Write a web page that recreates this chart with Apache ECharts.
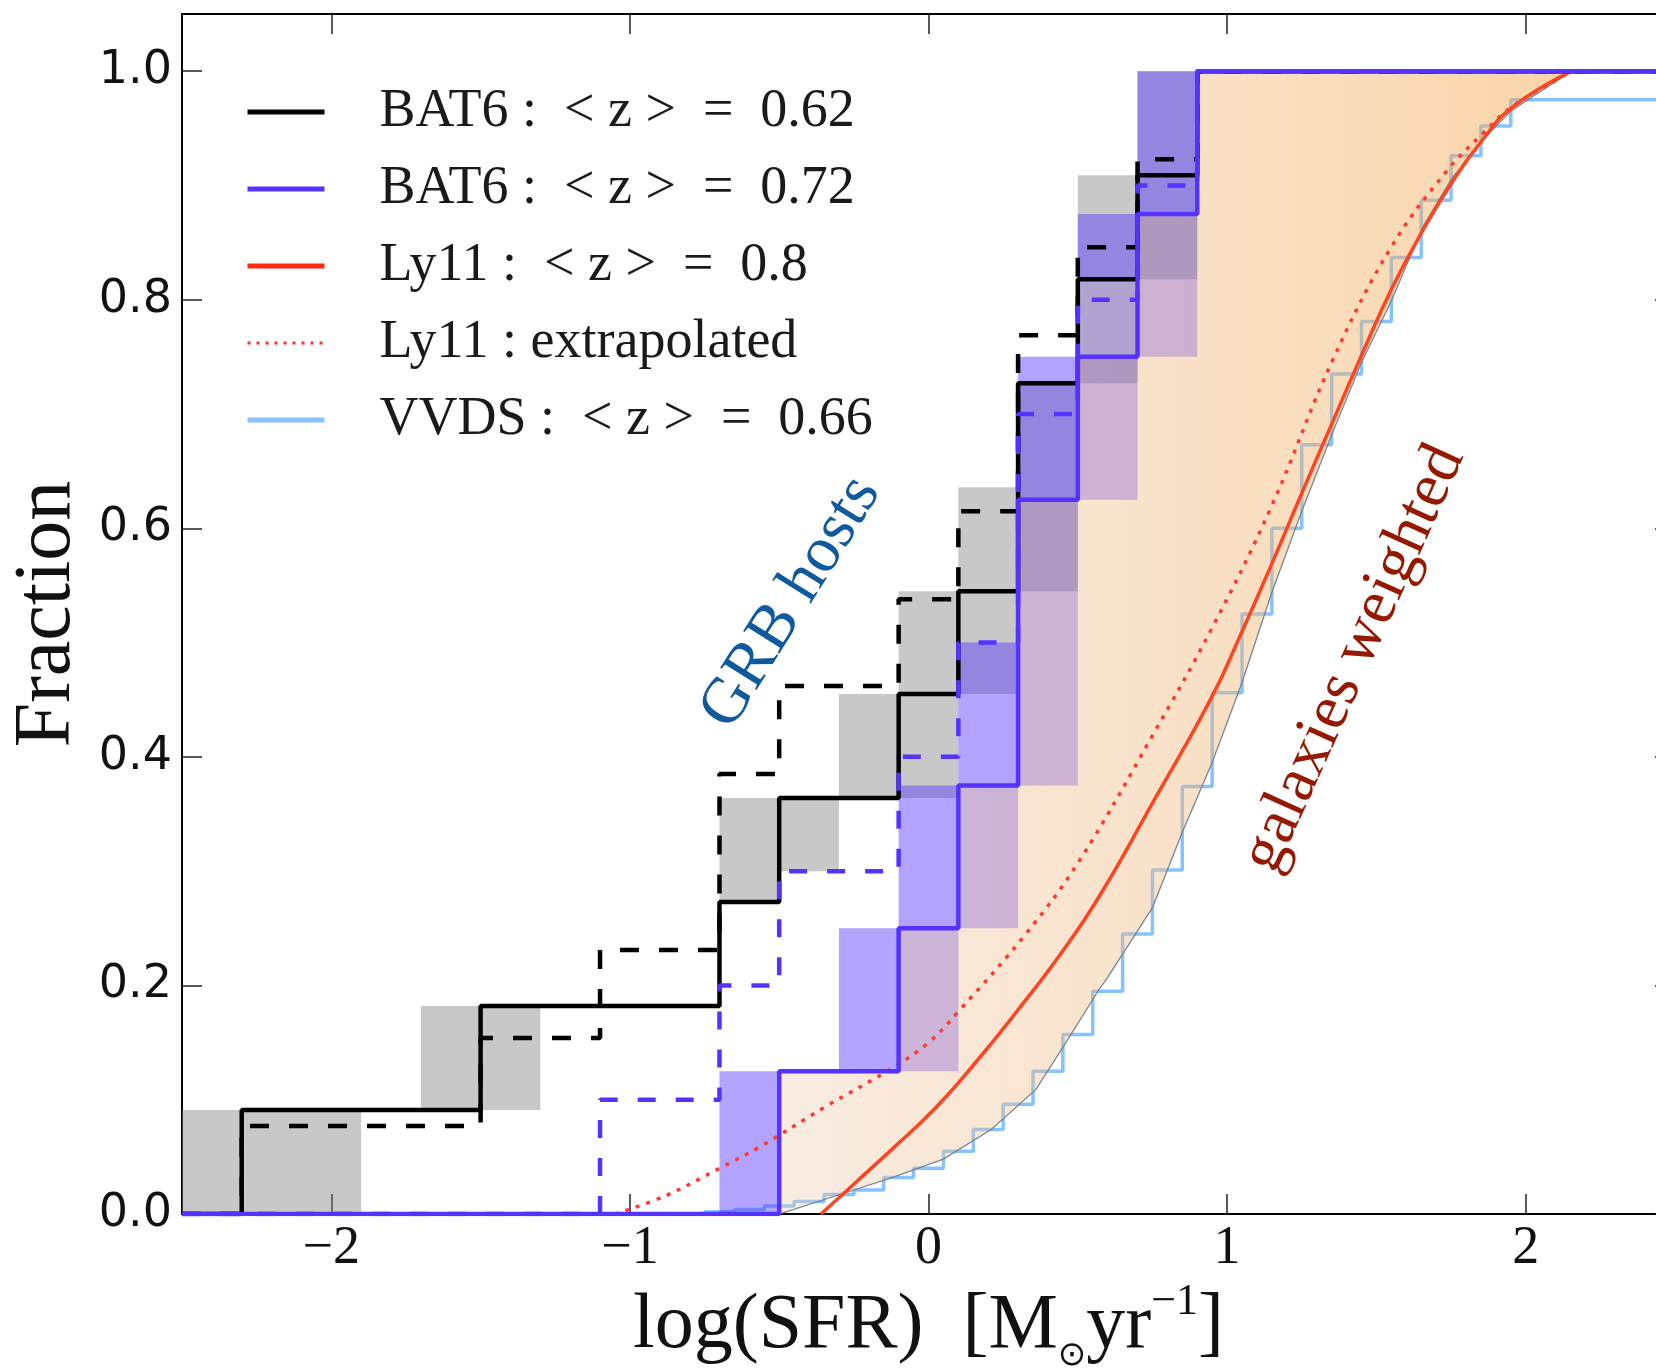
<!DOCTYPE html>
<html>
<head>
<meta charset="utf-8">
<script src="https://cdn.jsdelivr.net/npm/echarts@6/dist/echarts.min.js"></script>
<style>html,body{margin:0;padding:0;background:#fff}#c{width:1656px;height:1370px}</style>
</head>
<body>
<div id="c"></div>
<script>
// ---------------- data ----------------
const xTickValues = [-2, -1, 0, 1, 2];
const yTickValues = [0, 0.2, 0.4, 0.6, 0.8, 1.0];

const legendNames = [
  'BAT6 :  < z >  =  0.62',
  'BAT6 :  < z >  =  0.72',
  'Ly11 :  < z >  =  0.8',
  'Ly11 : extrapolated',
  'VVDS :  < z >  =  0.66'
];

// BAT6 <z>=0.62 (black solid): step positions and cumulative fraction
const bat6aX = [-2.5, -2.3, -1.5, -0.7, -0.5, -0.1, 0.1, 0.3, 0.5, 0.7, 0.9, 2.5];
const bat6aY = [0, 0.091, 0.182, 0.273, 0.364, 0.455, 0.545, 0.727, 0.818, 0.909, 1.0, 1.0];
// black dashed
const bat6bX = [-2.5, -2.3, -1.5, -1.1, -0.7, -0.5, -0.1, 0.1, 0.3, 0.5, 0.7, 0.9, 2.5];
const bat6bY = [0, 0.077, 0.154, 0.231, 0.385, 0.462, 0.538, 0.615, 0.769, 0.846, 0.923, 1.0, 1.0];
// BAT6 <z>=0.72 (blue solid)
const bat6cX = [-2.5, -0.5, -0.1, 0.1, 0.3, 0.5, 0.7, 0.9, 2.5];
const bat6cY = [0, 0.125, 0.25, 0.375, 0.625, 0.75, 0.875, 1.0, 1.0];
// blue dashed
const bat6dX = [-2.5, -1.1, -0.7, -0.5, -0.1, 0.1, 0.3, 0.5, 0.7, 0.9, 2.5];
const bat6dY = [0, 0.1, 0.2, 0.3, 0.4, 0.5, 0.7, 0.8, 0.9, 1.0, 1.0];

// uncertainty boxes (x from, x to, fraction low, fraction high)
const greyX0 = [-2.5, -1.7, -0.7, -0.5, -0.3, -0.1, 0.1, 0.3, 0.5, 0.7];
const greyX1 = [-1.9, -1.3, -0.5, -0.3, -0.1, 0.1, 0.3, 0.5, 0.7, 0.9];
const greyLo = [0, 0.091, 0.273, 0.30, 0.364, 0.364, 0.455, 0.545, 0.727, 0.818];
const greyHi = [0.091, 0.182, 0.364, 0.364, 0.455, 0.545, 0.636, 0.727, 0.909, 1.0];

const blueX0 = [-0.7, -0.3, -0.1, 0.1, 0.3, 0.5, 0.7];
const blueX1 = [-0.5, -0.1, 0.1, 0.3, 0.5, 0.7, 0.9];
const blueLo = [0, 0.125, 0.25, 0.375, 0.625, 0.818, 0.875];
const blueHi = [0.125, 0.25, 0.375, 0.5, 0.75, 0.875, 1.0];

const mauveX0 = [-0.1, 0.1, 0.3, 0.5, 0.7];
const mauveX1 = [0.1, 0.3, 0.5, 0.7, 0.9];
const mauveLo = [0.125, 0.25, 0.375, 0.625, 0.75];
const mauveHi = [0.25, 0.375, 0.625, 0.818, 0.875];

// VVDS <z>=0.66 (light blue step)
const vvdsX = [-2.5, -0.75, -0.65, -0.55, -0.45, -0.35, -0.25, -0.15, -0.05, 0.05, 0.15, 0.25, 0.35, 0.45, 0.55, 0.65, 0.75, 0.85, 0.95, 1.05, 1.15, 1.25, 1.35, 1.45, 1.55, 1.65, 1.75, 1.85, 1.95, 2.5];
const vvdsY = [0, 0.002, 0.004, 0.007, 0.011, 0.017, 0.021, 0.032, 0.040, 0.055, 0.074, 0.096, 0.125, 0.157, 0.195, 0.245, 0.301, 0.374, 0.456, 0.525, 0.600, 0.673, 0.735, 0.781, 0.837, 0.887, 0.926, 0.952, 0.975, 0.975];

// weighted-galaxies envelope (right edge of the shaded region)
const edgeX = [2.155, 2.03, 1.95, 1.853, 1.75, 1.656, 1.552, 1.45, 1.355, 1.25, 1.15, 1.05, 0.95, 0.85, 0.75, 0.6, 0.57, 0.46, 0.36, 0.21, 0.05, -0.12, -0.25, -0.5];
const edgeY = [1.0, 0.979, 0.965, 0.939, 0.905, 0.864, 0.80, 0.745, 0.685, 0.615, 0.544, 0.465, 0.395, 0.334, 0.268, 0.207, 0.196, 0.15, 0.109, 0.074, 0.048, 0.032, 0.021, 0.0];

// Ly11 <z>=0.8 (red solid)
const ly11X = [-0.36, -0.255, -0.121, 0.024, 0.159, 0.304, 0.438, 0.572, 0.751, 0.948, 1.047, 1.145, 1.244, 1.355, 1.453, 1.552, 1.650, 1.749, 1.847, 1.958, 2.155];
const ly11Y = [0.0, 0.025, 0.057, 0.093, 0.133, 0.180, 0.226, 0.278, 0.360, 0.452, 0.508, 0.566, 0.627, 0.694, 0.753, 0.810, 0.858, 0.901, 0.937, 0.969, 1.0];
// Ly11 extrapolated (red dotted)
const ly11eX = [-1.05, -0.88, -0.70, -0.57, -0.344, -0.12, 0.0, 0.103, 0.326, 0.505, 0.751, 0.948, 1.145, 1.355, 1.552, 1.737, 1.859, 1.96, 2.155];
const ly11eY = [0.0, 0.016, 0.040, 0.058, 0.094, 0.128, 0.150, 0.178, 0.245, 0.309, 0.419, 0.512, 0.617, 0.748, 0.847, 0.913, 0.946, 0.970, 1.0];

// text annotations
const annotText = ['GRB hosts', 'galaxies weighted'];
const annotX = [-0.46, 1.425];
const annotY = [0.535, 0.486];

// ---------------- chart ----------------
const annotStyle = [
  {rot: 58, color: '#0f5a9e', size: 65},
  {rot: 65.7, color: '#951800', size: 64}
];
const pts = (xs, ys) => xs.map((x, i) => [x, ys[i]]);
const boxes = (a, b, lo, hi) => a.map((v, i) => [v, b[i], lo[i], hi[i]]);

const peachPts = [];
for (let i = 1; i < bat6cX.length - 1; i++) {
  peachPts.push([bat6cX[i], bat6cY[i - 1]]);
  peachPts.push([bat6cX[i], bat6cY[i]]);
}
for (let i = 0; i < edgeX.length; i++) peachPts.push([edgeX[i], edgeY[i]]);

function boxSeries(data, color, z) {
  return {
    type: 'custom', z, silent: true, data,
    encode: {x: [0, 1], y: [2, 3]},
    renderItem(params, api) {
      const a = api.coord([api.value(0), api.value(3)]);
      const b = api.coord([api.value(1), api.value(2)]);
      return {type: 'rect', shape: {x: a[0], y: a[1], width: b[0] - a[0], height: b[1] - a[1]},
        style: {fill: color}};
    }
  };
}

function stepSeries(name, xs, ys, color, width, type, z) {
  return {
    name, type: 'line', step: 'end', z, symbol: 'none', silent: true,
    data: pts(xs, ys),
    lineStyle: {color, width, type, cap: 'butt'},
    itemStyle: {color}
  };
}

const chart = echarts.init(document.getElementById('c'), null, {renderer: 'canvas'});

const axisCommon = {
  type: 'value',
  axisLine: {show: true, onZero: false, lineStyle: {color: '#000', width: 2}},
  splitLine: {show: false}
};

chart.setOption({
  animation: false,
  backgroundColor: '#fff',
  grid: {left: 182, right: -19, top: 14, bottom: 156, containLabel: false, outerBoundsMode: 'none'},
  legend: {
    orient: 'vertical', left: 240, top: 77,
    itemWidth: 77, itemHeight: 4, itemGap: 17,
    selectedMode: false,
    itemStyle: {opacity: 0},
    data: [
      {name: legendNames[0], lineStyle: {width: 5, color: '#000000', type: 'solid'}},
      {name: legendNames[1], lineStyle: {width: 5, color: '#5533ff', type: 'solid'}},
      {name: legendNames[2], lineStyle: {width: 5, color: '#ff2a10', type: 'solid'}},
      {name: legendNames[3], lineStyle: {width: 3, color: '#ff3030', type: [3, 6]}},
      {name: legendNames[4], lineStyle: {width: 5, color: '#88c4ff', type: 'solid'}}
    ],
    textStyle: {fontFamily: 'Liberation Serif', fontSize: 54, color: '#1a1a1a', lineHeight: 60, padding: [0, 0, 0, 50]}
  },
  xAxis: [
    Object.assign({}, axisCommon, {
      min: -2.5, max: 2.5, position: 'bottom', splitNumber: 5,
      axisTick: {inside: true, length: 20, customValues: xTickValues, lineStyle: {color: '#222', width: 1.5}},
      axisLabel: {customValues: xTickValues, margin: 8, color: '#111',
        fontFamily: 'Liberation Serif', fontSize: 54,
        formatter: v => (v < 0 ? '\u2212' + Math.abs(v) : String(v))},
      name: '{a|log(SFR)}  {a|[M}{s|\u2299}{a|yr}{p|\u22121}{a|]}',
      nameLocation: 'middle', nameGap: 57,
      nameTextStyle: {
        fontFamily: 'Liberation Serif', fontSize: 78, color: '#111',
        rich: {
          a: {fontFamily: 'Liberation Serif', fontSize: 78, color: '#111', lineHeight: 92},
          s: {fontFamily: 'DejaVu Sans', fontSize: 34, color: '#111', verticalAlign: 'bottom', lineHeight: 40},
          p: {fontFamily: 'Liberation Serif', fontSize: 44, color: '#111', verticalAlign: 'top', lineHeight: 50}
        }
      }
    }),
    Object.assign({}, axisCommon, {
      min: -2.5, max: 2.5, position: 'top', splitNumber: 5,
      axisTick: {inside: true, length: 20, customValues: xTickValues, lineStyle: {color: '#222', width: 1.5}},
      axisLabel: {show: false}
    })
  ],
  yAxis: [
    Object.assign({}, axisCommon, {
      min: 0, max: 1.05, position: 'left',
      axisTick: {inside: true, length: 20, customValues: yTickValues, lineStyle: {color: '#222', width: 1.5}},
      axisLabel: {customValues: yTickValues, margin: 10, color: '#111',
        fontFamily: 'DejaVu Sans', fontSize: 46, formatter: v => v.toFixed(1)},
      name: 'Fraction', nameLocation: 'middle', nameGap: 91,
      nameTextStyle: {fontFamily: 'Liberation Serif', fontSize: 80, color: '#111'}
    }),
    Object.assign({}, axisCommon, {
      min: 0, max: 1.05, position: 'right',
      axisTick: {inside: true, length: 20, customValues: yTickValues, lineStyle: {color: '#222', width: 1.5}},
      axisLabel: {show: false}
    })
  ],
  series: [
    stepSeries(legendNames[4], vvdsX, vvdsY, '#86c2ff', 3.5, 'solid', 1),
    {
      type: 'custom', z: 2, silent: true, data: peachPts, encode: {x: 0, y: 1},
      renderItem(params, api) {
        if (params.dataIndex !== 0) return;
        const points = peachPts.map(p => api.coord(p));
        return {type: 'polygon', shape: {points},
          style: {
            fill: new echarts.graphic.LinearGradient(0, 0, 1, 0, [
              {offset: 0, color: 'rgba(235,200,170,0.35)'},
              {offset: 1, color: 'rgba(245,170,80,0.5)'}
            ]),
            stroke: 'rgba(110,122,138,0.9)', lineWidth: 1.3
          }};
      }
    },
    boxSeries(boxes(greyX0, greyX1, greyLo, greyHi), 'rgba(128,128,128,0.43)', 3),
    boxSeries(boxes(blueX0, blueX1, blueLo, blueHi), 'rgba(85,51,255,0.45)', 3),
    boxSeries(boxes(mauveX0, mauveX1, mauveLo, mauveHi), 'rgba(147,112,219,0.43)', 3),
    {
      name: legendNames[3], type: 'line', z: 4, symbol: 'none', silent: true, smooth: 0.4,
      data: pts(ly11eX, ly11eY),
      lineStyle: {color: '#ff3a30', width: 3.5, type: [4, 7], cap: 'butt'}, itemStyle: {color: '#ff3a30'}
    },
    {
      name: legendNames[2], type: 'line', z: 4, symbol: 'none', silent: true, smooth: 0.5,
      data: pts(ly11X, ly11Y),
      lineStyle: {color: '#ff4422', width: 3.5}, itemStyle: {color: '#ff4422'}
    },
    stepSeries(legendNames[0], bat6aX, bat6aY, '#000000', 4.5, 'solid', 5),
    stepSeries('BAT6 dashed', bat6bX, bat6bY, '#000000', 4.5, [19, 20], 5),
    stepSeries(legendNames[1], bat6cX, bat6cY, '#5533ff', 4.5, 'solid', 6),
    stepSeries('BAT6 blue dashed', bat6dX, bat6dY, '#5533ff', 4.5, [18, 20], 6),
    {
      type: 'custom', z: 7, silent: true, data: pts(annotX, annotY), encode: {x: 0, y: 1},
      renderItem(params, api) {
        const i = params.dataIndex;
        const p = api.coord([api.value(0), api.value(1)]);
        const s = annotStyle[i];
        return {type: 'text', x: p[0], y: p[1], rotation: s.rot * Math.PI / 180,
          style: {text: annotText[i], fill: s.color, fontSize: s.size, fontFamily: 'Liberation Serif',
            align: 'center', verticalAlign: 'middle'}};
      }
    }
  ]
});
</script>
</body>
</html>
